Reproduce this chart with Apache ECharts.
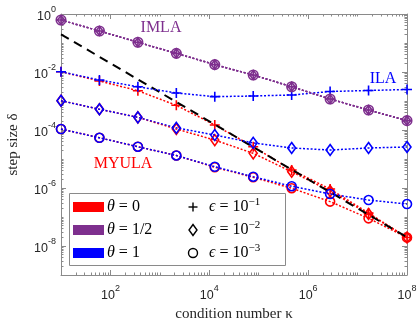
<!DOCTYPE html>
<html>
<head>
<meta charset="utf-8">
<script src="https://cdn.jsdelivr.net/npm/echarts@6/dist/echarts.min.js"></script>
<style>html,body{margin:0;padding:0;background:#fff}#c{width:420px;height:320px}</style>
</head>
<body>
<div id="c"></div>
<script>
// condition number kappa (x)
const kappa = [10, 59.9, 359.4, 2154, 12915, 77426, 464159, 2.783e6, 1.668e7, 1e8];
// theta = 0 (MYULA)
const myulaEps1 = [1.02e-2, 4.9e-3, 2.26e-3, 7.1e-4, 1.49e-4, 2.65e-5, 4.2e-6, 9.2e-7, 1.37e-7, 1.96e-8];
const myulaEps2 = [1.02e-3, 5.2e-4, 2.74e-4, 1.08e-4, 4.5e-5, 1.57e-5, 3.65e-6, 7.9e-7, 1.27e-7, 1.96e-8];
const myulaEps3 = [1.08e-4, 5.4e-5, 2.65e-5, 1.32e-5, 5.2e-6, 2.34e-6, 9.8e-7, 3.4e-7, 9.0e-8, 1.96e-8];
// theta = 1 (ILA)
const ilaEps1 = [1.02e-2, 5.3e-3, 3.1e-3, 1.89e-3, 1.41e-3, 1.49e-3, 1.61e-3, 2.13e-3, 2.3e-3, 2.49e-3];
const ilaEps2 = [1.02e-3, 5.2e-4, 2.74e-4, 1.19e-4, 6.7e-5, 3.6e-5, 2.4e-5, 2.04e-5, 2.4e-5, 2.6e-5];
const ilaEps3 = [1.08e-4, 5.4e-5, 2.65e-5, 1.32e-5, 5.4e-6, 2.45e-6, 1.15e-6, 6.2e-7, 3.85e-7, 2.8e-7];
// theta = 1/2 (IMLA), same for every epsilon
const imlaEps1 = [0.62, 0.26, 0.106, 0.044, 0.018, 0.0079, 0.0031, 0.00117, 4.9e-4, 2.1e-4];
const imlaEps2 = [0.62, 0.26, 0.106, 0.044, 0.018, 0.0079, 0.0031, 0.00117, 4.9e-4, 2.1e-4];
const imlaEps3 = [0.62, 0.26, 0.106, 0.044, 0.018, 0.0079, 0.0031, 0.00117, 4.9e-4, 2.1e-4];
// reference line (dashed black)
const refKappa = [10, 1e8];
const refDelta = [0.2, 2e-8];
// tick labels
const xTickLabels = [1e2, 1e4, 1e6, 1e8];
const yTickLabels = [1e-8, 1e-6, 1e-4, 1e-2, 1];

const xMinor = [], yMinor = [];
for (let e = 1; e < 8; e++) for (let m = 1; m < 10; m++) { const v = m * Math.pow(10, e); if (!(m === 1 && e % 2 === 0)) xMinor.push(v); }
for (let e = -9; e < 0; e++) for (let m = 1; m < 10; m++) { const v = m * Math.pow(10, e); if (!(m === 1 && e % 2 === 0)) yMinor.push(v); }

const RED = '#ff0000', BLUE = '#0000ff', PURPLE = '#7e2f8e', AX = '#8a8a8a', TXT = '#262626';
const PLUS = 'path://M0,5L10,5M5,0L5,10';

function sup(v) { const e = Math.round(Math.log10(v)); return '{b|10}{e|' + e + '}'; }
const richTick = {
  b: { fontFamily: 'Liberation Sans', fontSize: 12.5, color: TXT, lineHeight: 18, verticalAlign: 'bottom' },
  e: { fontFamily: 'Liberation Sans', fontSize: 9, color: TXT, lineHeight: 18, verticalAlign: 'top' }
};

function mkAxis(dim, kind, pos, extra) {
  const isX = dim === 'x';
  const base = {
    type: 'log', logBase: 10,
    min: isX ? 10 : 1e-9, max: isX ? 1e8 : 1,
    position: pos, splitLine: { show: false },
    axisLine: { show: kind === 'major', lineStyle: { color: AX, width: 1 } },
    axisTick: { show: true, inside: true, length: kind === 'major' ? 5 : 2.5,
      customValues: kind === 'major' ? (isX ? xTickLabels : yTickLabels) : (isX ? xMinor : yMinor),
      lineStyle: { color: AX, width: 1 } },
    axisLabel: { show: false },
    minorTick: { show: false }
  };
  return Object.assign(base, extra || {});
}

const xAxes = [
  mkAxis('x', 'major', 'bottom', {
    axisLabel: { show: true, customValues: xTickLabels, margin: 9, formatter: sup, rich: richTick },
    name: 'condition number κ', nameLocation: 'middle', nameGap: 27,
    nameTextStyle: { fontFamily: 'Liberation Serif', fontSize: 15, color: TXT }
  }),
  mkAxis('x', 'minor', 'bottom'),
  mkAxis('x', 'major', 'top'),
  mkAxis('x', 'minor', 'top')
];
const yAxes = [
  mkAxis('y', 'major', 'left', {
    axisLabel: { show: true, customValues: yTickLabels, margin: 5, formatter: sup, rich: richTick },
    name: 'step size δ', nameLocation: 'middle', nameGap: 40, nameRotate: 90,
    nameTextStyle: { fontFamily: 'Liberation Serif', fontSize: 15, color: TXT }
  }),
  mkAxis('y', 'minor', 'left'),
  mkAxis('y', 'major', 'right'),
  mkAxis('y', 'minor', 'right')
];

function ser(vals, color, symbol, size, z) {
  return {
    type: 'line', xAxisIndex: 0, yAxisIndex: 0,
    data: kappa.map((k, i) => [k, vals[i]]),
    symbol: symbol, symbolSize: size, showSymbol: true, clip: false,
    itemStyle: { color: 'rgba(0,0,0,0)', borderColor: color, borderWidth: 1.6 },
    lineStyle: { color: color, width: 1.5, type: [2, 1.8] },
    emphasis: { disabled: true }, silent: true, z: z
  };
}

const series = [
  ser(myulaEps1, RED, PLUS, 10, 2),
  ser(myulaEps2, RED, 'diamond', [8, 11], 2),
  ser(myulaEps3, RED, 'circle', 9, 2),
  {
    type: 'line', data: refKappa.map((k, i) => [k, refDelta[i]]), showSymbol: false, symbol: 'none',
    lineStyle: { color: '#000', width: 2, type: [9, 6] }, silent: true, z: 3, clip: false
  },
  ser(ilaEps1, BLUE, PLUS, 10, 4),
  ser(ilaEps2, BLUE, 'diamond', [8, 11], 4),
  ser(ilaEps3, BLUE, 'circle', 9, 4),
  ser(imlaEps1, PURPLE, PLUS, 10, 5),
  ser(imlaEps2, PURPLE, 'diamond', [7, 9], 5),
  ser(imlaEps3, PURPLE, 'circle', 9.5, 5)
];

const serif = 'Liberation Serif';
const legRich = {
  i: { fontFamily: serif, fontStyle: 'italic', fontSize: 16, color: '#000' },
  n: { fontFamily: serif, fontSize: 16, color: '#000' },
  s: { fontFamily: serif, fontSize: 11, color: '#000', verticalAlign: 'top', lineHeight: 20 }
};
const rows = [207, 230, 253];
const swCols = [RED, PURPLE, BLUE];
const thetaTxt = ['{i|θ}{n| = 0}', '{i|θ}{n| = 1/2}', '{i|θ}{n| = 1}'];
const epsTxt = ['{i|ϵ}{n| = 10}{s|−1}', '{i|ϵ}{n| = 10}{s|−2}', '{i|ϵ}{n| = 10}{s|−3}'];
const legendEls = [{ type: 'rect', shape: { x: 69.5, y: 193.5, width: 216, height: 72 }, style: { fill: '#fff', stroke: AX, lineWidth: 1 } }];
rows.forEach((ry, i) => {
  legendEls.push({ type: 'rect', shape: { x: 73, y: ry - 5, width: 31, height: 10 }, style: { fill: swCols[i] } });
  legendEls.push({ type: 'text', x: 107, y: ry, style: { text: thetaTxt[i], rich: legRich, verticalAlign: 'middle', align: 'left' } });
  legendEls.push({ type: 'text', x: 209, y: ry, style: { text: epsTxt[i], rich: legRich, verticalAlign: 'middle', align: 'left' } });
});
legendEls.push({ type: 'polyline', shape: { points: [[188.5, rows[0]], [197.5, rows[0]]] }, style: { stroke: '#000', lineWidth: 1.4 } });
legendEls.push({ type: 'polyline', shape: { points: [[193, rows[0] - 4.5], [193, rows[0] + 4.5]] }, style: { stroke: '#000', lineWidth: 1.4 } });
legendEls.push({ type: 'polygon', shape: { points: [[193, rows[1] - 5.5], [197, rows[1]], [193, rows[1] + 5.5], [189, rows[1]]] }, style: { fill: 'none', stroke: '#000', lineWidth: 1.4 } });
legendEls.push({ type: 'circle', shape: { cx: 193, cy: rows[2], r: 4.5 }, style: { fill: 'none', stroke: '#000', lineWidth: 1.4 } });

const annot = [
  { type: 'text', x: 161, y: 28, style: { text: 'IMLA', fill: PURPLE, font: '16px "Liberation Serif"', align: 'center', verticalAlign: 'middle' } },
  { type: 'text', x: 383, y: 79, style: { text: 'ILA', fill: BLUE, font: '16px "Liberation Serif"', align: 'center', verticalAlign: 'middle' } },
  { type: 'text', x: 123, y: 164, style: { text: 'MYULA', fill: RED, font: '16px "Liberation Serif"', align: 'center', verticalAlign: 'middle' } }
];

const chart = echarts.init(document.getElementById('c'), null, { renderer: 'canvas' });
chart.setOption({
  animation: false,
  backgroundColor: '#fff',
  grid: { left: 61, right: 13, top: 14, bottom: 45, containLabel: false, outerBoundsMode: 'none' },
  xAxis: xAxes,
  yAxis: yAxes,
  series: series,
  graphic: [{ type: 'group', z: 100, children: legendEls }].concat(annot.map(a => Object.assign({ z: 100 }, a)))
});
</script>
</body>
</html>
